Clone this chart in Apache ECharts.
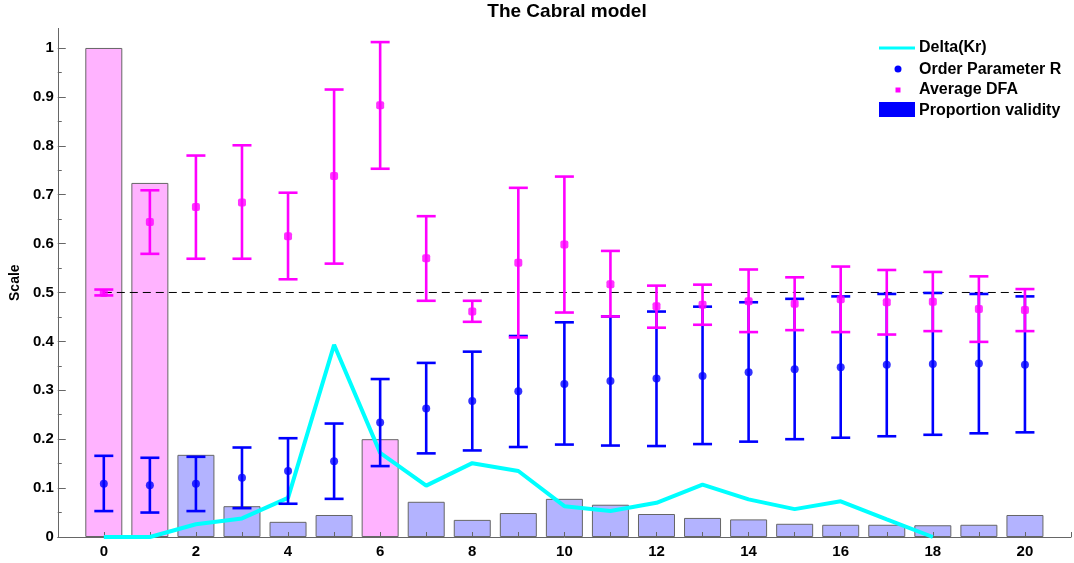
<!DOCTYPE html>
<html>
<head>
<meta charset="utf-8">
<script src="https://cdn.jsdelivr.net/npm/echarts@6/dist/echarts.min.js"></script>
<style>html,body{margin:0;padding:0;background:#fff;}#chart{width:1074px;height:563px;}</style>
</head>
<body>
<div id="chart"></div>
<script>
// ---- data ----
const xs = [0,1,2,3,4,5,6,7,8,9,10,11,12,13,14,15,16,17,18,19,20];
const proportionValidity = [1.0,0.724,0.168,0.063,0.031,0.045,0.2,0.072,0.035,0.049,0.078,0.066,0.047,0.039,0.036,0.027,0.025,0.025,0.024,0.025,0.045];
const highlightedBars = [0,1,6];
const deltaKr = [0,0,0.026,0.038,0.08,0.393,0.172,0.105,0.151,0.135,0.063,0.053,0.070,0.107,0.077,0.057,0.073,0.036,0,null,null];
const rMean = [0.109,0.106,0.109,0.121,0.135,0.155,0.234,0.263,0.278,0.298,0.313,0.319,0.324,0.329,0.337,0.343,0.347,0.352,0.354,0.355,0.352];
const rLow  = [0.053,0.050,0.053,0.059,0.068,0.078,0.145,0.171,0.177,0.184,0.189,0.187,0.186,0.190,0.195,0.200,0.203,0.206,0.209,0.212,0.214];
const rHigh = [0.166,0.162,0.164,0.183,0.202,0.232,0.323,0.356,0.379,0.411,0.439,0.451,0.461,0.471,0.480,0.487,0.492,0.497,0.499,0.497,0.492];
const dfaMean = [0.499,0.644,0.675,0.684,0.615,0.738,0.883,0.570,0.461,0.561,0.598,0.517,0.472,0.475,0.482,0.477,0.486,0.480,0.481,0.466,0.464];
const dfaLow  = [0.494,0.579,0.569,0.569,0.527,0.559,0.753,0.483,0.440,0.408,0.459,0.451,0.428,0.434,0.419,0.423,0.419,0.414,0.421,0.399,0.421];
const dfaHigh = [0.506,0.709,0.780,0.801,0.704,0.915,1.012,0.656,0.483,0.714,0.737,0.585,0.514,0.516,0.547,0.531,0.553,0.546,0.542,0.533,0.507];
const refLevel = 0.5;
const xTickLabels = ['0','2','4','6','8','10','12','14','16','18','20'];
const yTickValues = [0,0.1,0.2,0.3,0.4,0.5,0.6,0.7,0.8,0.9,1];
const yMinorTickValues = [0.05,0.15,0.25,0.35,0.45,0.55,0.65,0.75,0.85,0.95];

const FONT = "'Liberation Sans', Arial, sans-serif";
const PINK = '#ffb3ff', LAV = '#b3b3ff';

function errorBar(color) {
  return function (params, api) {
    const x = api.value(0), lo = api.value(1), hi = api.value(2);
    const a = api.coord([x, lo]), b = api.coord([x, hi]);
    const hw = 9.5;
    const st = { stroke: color, lineWidth: 2.6 };
    return { type: 'group', children: [
      { type: 'line', shape: { x1: a[0], y1: a[1], x2: b[0], y2: b[1] }, style: st },
      { type: 'line', shape: { x1: a[0]-hw, y1: a[1], x2: a[0]+hw, y2: a[1] }, style: st },
      { type: 'line', shape: { x1: b[0]-hw, y1: b[1], x2: b[0]+hw, y2: b[1] }, style: st }
    ]};
  };
}

const chart = echarts.init(document.getElementById('chart'), null, { renderer: 'canvas' });
const legendX = 879, textX = 919;
const legendText = (t, y) => ({ type: 'text', x: textX, y: y, style: { text: t, fill: '#000', font: 'bold 16px ' + FONT, verticalAlign: 'middle' } });

chart.setOption({
  animation: false,
  grid: { left: 57, right: 0, top: 28.4, bottom: 26 },
  xAxis: {
    type: 'value', min: -1, max: 21, interval: 1, z: 3,
    axisLine: { onZero: false, lineStyle: { color: '#666', width: 1 } },
    axisTick: { inside: true, length: 5, lineStyle: { color: '#666' } },
    axisLabel: {
      color: '#000', fontWeight: 'bold', fontSize: 15, fontFamily: FONT, margin: 7,
      formatter: v => { const s = String(Math.round(v)); return xTickLabels.indexOf(s) >= 0 && Math.abs(v - Math.round(v)) < 1e-6 ? s : ''; }
    },
    splitLine: { show: false }
  },
  yAxis: [{
    type: 'value', min: 0, max: 1.04, interval: 0.1, z: 3,
    name: 'Scale', nameLocation: 'middle', nameGap: 27, nameRotate: 90,
    nameTextStyle: { color: '#000', fontWeight: 'bold', fontSize: 14, fontFamily: FONT },
    axisLine: { show: true, onZero: false, lineStyle: { color: '#666', width: 1 } },
    axisTick: { show: true, inside: true, length: 8, customValues: yTickValues, lineStyle: { color: '#666' } },
    axisLabel: {
      color: '#000', fontWeight: 'bold', fontSize: 15, fontFamily: FONT, margin: 4,
      customValues: yTickValues,
      formatter: v => String(Math.round(v * 10) / 10)
    },
    splitLine: { show: false }
  }, {
    type: 'value', min: 0, max: 1.04, position: 'left', offset: 0, z: 3,
    axisLine: { show: false, onZero: false },
    axisTick: { show: true, inside: true, length: 4, customValues: yMinorTickValues, lineStyle: { color: '#666' } },
    axisLabel: { show: false },
    splitLine: { show: false }
  }],
  graphic: [
    { type: 'text', x: 567, y: 12, style: { text: 'The Cabral model', fill: '#000', font: 'bold 19px ' + FONT, textAlign: 'center', verticalAlign: 'middle' } },
    { type: 'line', shape: { x1: legendX, y1: 48, x2: legendX + 36, y2: 48 }, style: { stroke: '#00ffff', lineWidth: 3 } },
    legendText('Delta(Kr)', 48),
    { type: 'circle', shape: { cx: 898, cy: 69, r: 3.5 }, style: { fill: '#0000ff' } },
    legendText('Order Parameter R', 70),
    { type: 'rect', shape: { x: 895.5, y: 87.5, width: 5, height: 5 }, style: { fill: '#ff00ff' } },
    legendText('Average DFA', 90),
    { type: 'rect', shape: { x: legendX, y: 102, width: 36, height: 15 }, style: { fill: '#0000ff' } },
    legendText('Proportion validity', 111)
  ],
  series: [
    {
      name: 'Proportion validity', type: 'bar', barWidth: 37, z: 1,
      data: xs.map((x, i) => ({ value: [x, proportionValidity[i]], itemStyle: { color: highlightedBars.indexOf(i) >= 0 ? PINK : LAV, borderColor: '#666', borderWidth: 1 } }))
    },
    {
      name: 'Delta(Kr)', type: 'line', z: 4, showSymbol: false, connectNulls: false,
      lineStyle: { color: '#00ffff', width: 4 },
      data: xs.map((x, i) => [x, deltaKr[i]])
    },
    {
      name: 'ref', type: 'line', z: 2, showSymbol: false,
      lineStyle: { color: '#000', width: 1, type: [8, 5] },
      data: [[xs[0], refLevel], [xs[xs.length - 1], refLevel]]
    },
    {
      name: 'R err', type: 'custom', z: 5, renderItem: errorBar('#0000ff'),
      data: xs.map((x, i) => [x, rLow[i], rHigh[i]])
    },
    {
      name: 'Order Parameter R', type: 'scatter', z: 6, symbol: 'circle', symbolSize: 8,
      itemStyle: { color: '#0000ff' },
      data: xs.map((x, i) => [x, rMean[i]])
    },
    {
      name: 'DFA err', type: 'custom', z: 7, renderItem: errorBar('#ff00ff'),
      data: xs.map((x, i) => [x, dfaLow[i], dfaHigh[i]])
    },
    {
      name: 'Average DFA', type: 'scatter', z: 8, symbol: 'roundRect', symbolSize: 8,
      itemStyle: { color: '#ff00ff' },
      data: xs.map((x, i) => [x, dfaMean[i]])
    }
  ]
});
</script>
</body>
</html>
